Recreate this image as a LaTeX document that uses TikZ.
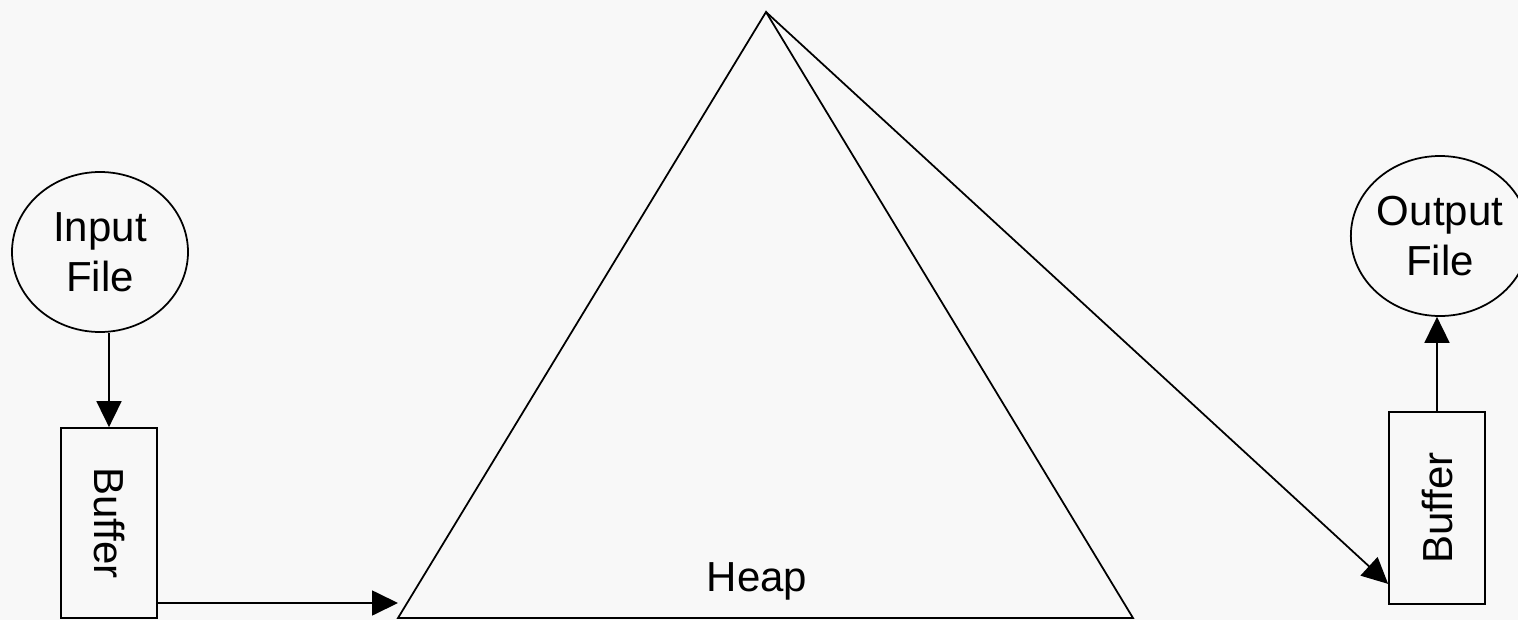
\documentclass[tikz,border=0pt]{standalone}
\usepackage{fontspec}
\setmainfont{Liberation Sans}
\usepackage{tikz}
\usetikzlibrary{shapes.geometric,arrows.meta,positioning,calc}
\definecolor{sheetgray}{RGB}{248,248,248}

\begin{document}
\begin{tikzpicture}[
    filenode/.style={ellipse, draw=black, line width=1pt, inner sep=0pt, minimum width=3.52cm, minimum height=3.2cm, align=center, font=\fontsize{23.9}{28.5}\selectfont},
    bufbox/.style={rectangle, draw=black, line width=1pt, inner sep=0pt, minimum width=1.92cm, font=\fontsize{23.9}{28.5}\selectfont},
    arrow/.style={-{Triangle[length=5.2mm, width=5mm]}, line width=1pt, draw=black}
]
\fill[sheetgray] (0,0) rectangle (30.36,12.4);
\useasboundingbox (0,0) rectangle (30.36,12.4);

% input side
\node[filenode] (infile) at (2.00,7.36) {Input\\File};
\node[bufbox, minimum height=3.8cm] (inbuf) at (2.18,1.94) {\rotatebox{-90}{Buffer}};

% heap
\coordinate (apex) at (15.32,12.16);
\coordinate (baseL) at (7.96,0.04);
\coordinate (baseR) at (22.66,0.04);
\draw[line width=1pt, line join=miter] (baseL) -- (apex) -- (baseR) -- cycle;
\node[anchor=base, font=\fontsize{23.9}{28.5}\selectfont] (heap) at (15.14,0.58) {Heap};
\coordinate (heapin) at (7.96,0.34);

% output side
\node[bufbox, minimum height=3.84cm] (outbuf) at (28.74,2.24) {\rotatebox{90}{Buffer}};
\node[filenode] (outfile) at (28.80,7.68) {Output\\File};

\draw[arrow] (inbuf.north |- infile.south) -- (inbuf.north);
\draw[arrow] (inbuf.east |- heapin) -- (heapin);
\draw[arrow] (apex) -- ($(outbuf.south west)+(0,0.42)$);
\draw[arrow] (outbuf.north) -- (outbuf.north |- outfile.south);
\end{tikzpicture}
\end{document}
